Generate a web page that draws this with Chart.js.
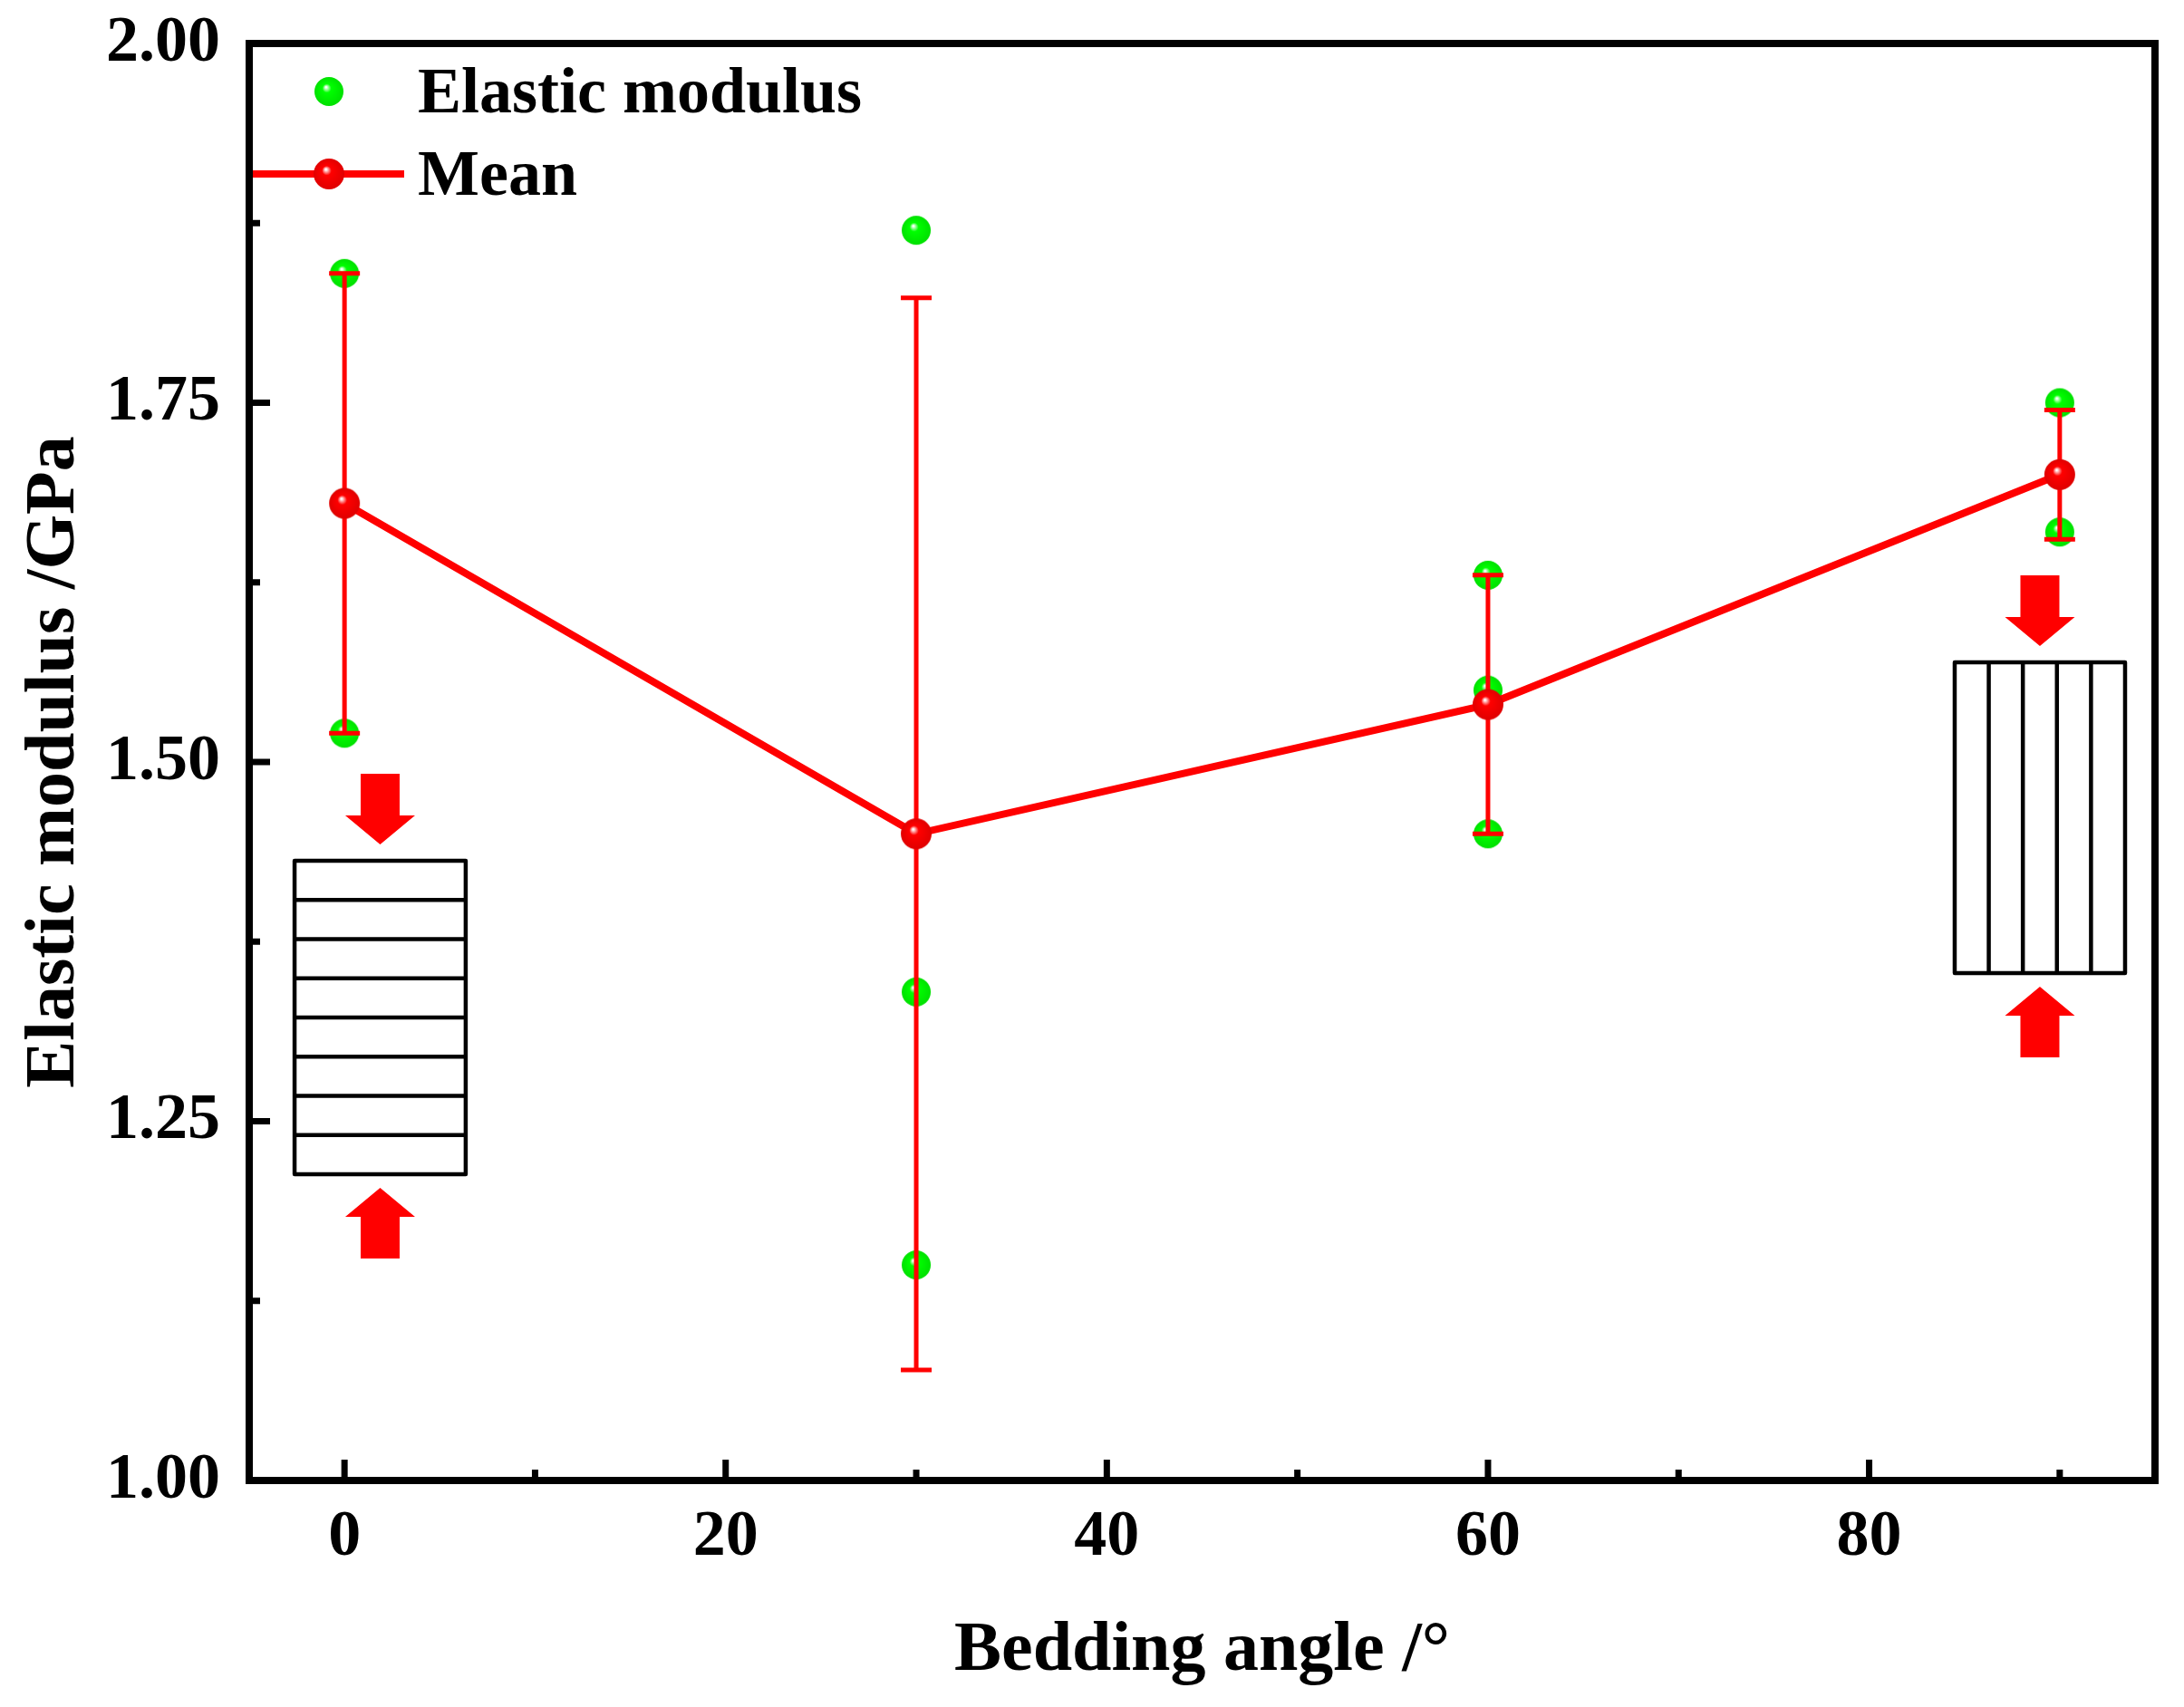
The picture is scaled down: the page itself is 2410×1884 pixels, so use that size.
<!DOCTYPE html>
<html>
<head>
<meta charset="utf-8">
<script src="https://cdn.jsdelivr.net/npm/chart.js@4"></script>
<style>
  html, body { margin: 0; padding: 0; background: #ffffff; }
  #wrap { width: 2410px; height: 1884px; }
</style>
</head>
<body>
<div id="wrap"><canvas id="c" width="2410" height="1884"></canvas></div>
<script>
// ---------------- data ----------------
const beddingAngles = [0, 30, 60, 90];
const sampleA = [1.84, 1.87, 1.63, 1.75];
const sampleB = [1.52, 1.34, 1.55, 1.66];
const sampleC = [1.68, 1.15, 1.45, 1.70];
const meanValues = [1.68, 1.45, 1.54, 1.70];
const meanError = [0.16, 0.373, 0.09, 0.045];
const xTickValues = [0, 20, 40, 60, 80];
const xMinorTickValues = [10, 30, 50, 70, 90];
const yTickValues = [1.00, 1.25, 1.50, 1.75, 2.00];
const yTickLabels = ['1.00', '1.25', '1.50', '1.75', '2.00'];
const yMinorTickValues = [1.125, 1.375, 1.625, 1.875];
const seriesNames = ['Elastic modulus', 'Mean'];
const axisTitles = { x: 'Bedding angle /°', y: 'Elastic modulus /GPa' };

// ---------------- styling ----------------
const FONT = 'Liberation Serif';
const GREEN = '#00ff00';
const RED = '#ff0000';

function sphere(r, base, edge) {
  const c = document.createElement('canvas');
  c.width = c.height = 2 * r + 2;
  const g = c.getContext('2d');
  const cx = r + 1, cy = r + 1;
  const grad = g.createRadialGradient(cx - r * 0.2, cy - r * 0.3, r * 0.04, cx, cy, r);
  grad.addColorStop(0, '#ffffff');
  grad.addColorStop(0.28, base);
  grad.addColorStop(1, edge);
  g.fillStyle = grad;
  g.beginPath();
  g.arc(cx, cy, r, 0, Math.PI * 2);
  g.fill();
  return c;
}
const greenBall = sphere(16, GREEN, '#00e000');
const redBall = sphere(17, RED, '#e00000');

const scatterData = [];
beddingAngles.forEach((a, i) => {
  scatterData.push({ x: a, y: sampleA[i] });
  scatterData.push({ x: a, y: sampleB[i] });
  scatterData.push({ x: a, y: sampleC[i] });
});
const meanData = beddingAngles.map((a, i) => ({ x: a, y: meanValues[i] }));

// error bars drawn through the chart's scales, right after the scatter points
const errorBarPlugin = {
  id: 'errorBars',
  afterDatasetDraw(chart, args) {
    if (args.index !== 0) return;
    const { ctx, scales: { x, y } } = chart;
    ctx.save();
    ctx.strokeStyle = RED;
    ctx.lineWidth = 5;
    const cap = 17;
    beddingAngles.forEach((a, i) => {
      const px = x.getPixelForValue(a);
      const top = y.getPixelForValue(meanValues[i] + meanError[i]);
      const bot = y.getPixelForValue(meanValues[i] - meanError[i]);
      ctx.beginPath();
      ctx.moveTo(px, top); ctx.lineTo(px, bot);
      ctx.moveTo(px - cap, top); ctx.lineTo(px + cap, top);
      ctx.moveTo(px - cap, bot); ctx.lineTo(px + cap, bot);
      ctx.stroke();
    });
    ctx.restore();
  }
};

// specimen sketches (annotations placed in data space)
const specimens = [
  { x0: -2.62, x1: 6.36, y0: 1.2131, y1: 1.4313, lines: 7, dir: 'h' },
  { x0: 84.49, x1: 93.43, y0: 1.3531, y1: 1.5694, lines: 4, dir: 'v' }
];
function arrow(ctx, cx, tipY, down) {
  const shaftW = 43, shaftH = 46, headW = 77, headH = 32;
  const s = down ? -1 : 1; // direction from tip to tail
  ctx.beginPath();
  ctx.moveTo(cx, tipY);
  ctx.lineTo(cx + headW / 2, tipY + s * headH);
  ctx.lineTo(cx + shaftW / 2, tipY + s * headH);
  ctx.lineTo(cx + shaftW / 2, tipY + s * (headH + shaftH));
  ctx.lineTo(cx - shaftW / 2, tipY + s * (headH + shaftH));
  ctx.lineTo(cx - shaftW / 2, tipY + s * headH);
  ctx.lineTo(cx - headW / 2, tipY + s * headH);
  ctx.closePath();
  ctx.fill();
}
const specimenPlugin = {
  id: 'specimens',
  afterDatasetsDraw(chart) {
    const { ctx, scales: { x, y } } = chart;
    ctx.save();
    specimens.forEach(sp => {
      const L = x.getPixelForValue(sp.x0), R = x.getPixelForValue(sp.x1);
      const T = y.getPixelForValue(sp.y1), B = y.getPixelForValue(sp.y0);
      ctx.strokeStyle = '#000';
      ctx.lineWidth = 4.5;
      ctx.lineJoin = 'round';
      ctx.beginPath();
      ctx.rect(L, T, R - L, B - T);
      for (let k = 1; k <= sp.lines; k++) {
        if (sp.dir === 'h') {
          const yy = T + (B - T) * k / (sp.lines + 1);
          ctx.moveTo(L, yy); ctx.lineTo(R, yy);
        } else {
          const xx = L + (R - L) * k / (sp.lines + 1);
          ctx.moveTo(xx, T); ctx.lineTo(xx, B);
        }
      }
      ctx.stroke();
      ctx.fillStyle = RED;
      const cx = (L + R) / 2;
      arrow(ctx, cx, T - 18, true);
      arrow(ctx, cx, B + 15, false);
    });
    ctx.restore();
  }
};

// frame, inward ticks and legend
const framePlugin = {
  id: 'frame',
  afterDraw(chart) {
    const { ctx, chartArea: a, scales: { x, y } } = chart;
    ctx.save();
    ctx.strokeStyle = '#000';
    ctx.lineCap = 'butt';
    ctx.lineWidth = 7;
    ctx.beginPath();
    xTickValues.forEach(v => { const p = x.getPixelForValue(v); ctx.moveTo(p, a.bottom); ctx.lineTo(p, a.bottom - 23); });
    xMinorTickValues.forEach(v => { const p = x.getPixelForValue(v); ctx.moveTo(p, a.bottom); ctx.lineTo(p, a.bottom - 12); });
    yTickValues.forEach(v => { const p = y.getPixelForValue(v); ctx.moveTo(a.left, p); ctx.lineTo(a.left + 23, p); });
    yMinorTickValues.forEach(v => { const p = y.getPixelForValue(v); ctx.moveTo(a.left, p); ctx.lineTo(a.left + 12, p); });
    ctx.stroke();
    ctx.lineWidth = 8;
    ctx.lineJoin = 'miter';
    ctx.strokeRect(a.left, a.top, a.right - a.left, a.bottom - a.top);

    // legend
    const mx = a.left + 88;
    const row1 = a.top + 53, row2 = a.top + 144;
    ctx.drawImage(greenBall, mx - greenBall.width / 2, row1 - greenBall.height / 2);
    ctx.strokeStyle = RED;
    ctx.lineWidth = 8;
    ctx.beginPath();
    ctx.moveTo(a.left + 4, row2); ctx.lineTo(a.left + 171, row2);
    ctx.stroke();
    ctx.drawImage(redBall, mx - redBall.width / 2, row2 - redBall.height / 2);
    ctx.fillStyle = '#000';
    ctx.font = 'bold 72px "' + FONT + '"';
    ctx.textBaseline = 'middle';
    ctx.textAlign = 'left';
    ctx.fillText(seriesNames[0], a.left + 186, row1 + 4);
    ctx.fillText(seriesNames[1], a.left + 186, row2 + 4);
    ctx.restore();
  }
};

new Chart(document.getElementById('c'), {
  type: 'scatter',
  data: {
    datasets: [
      {
        label: seriesNames[0],
        data: scatterData,
        pointStyle: greenBall,
        pointRadius: 16,
        pointHoverRadius: 16,
        order: 2
      },
      {
        label: seriesNames[1],
        type: 'line',
        data: meanData,
        showLine: true,
        borderColor: RED,
        borderWidth: 8,
        tension: 0,
        fill: false,
        pointStyle: redBall,
        pointRadius: 17,
        pointHoverRadius: 17,
        order: 1
      }
    ]
  },
  options: {
    responsive: false,
    animation: false,
    devicePixelRatio: 1,
    events: [],
    layout: { padding: { left: 0, right: 32, top: 48, bottom: 0 } },
    plugins: { legend: { display: false }, tooltip: { enabled: false } },
    scales: {
      x: {
        type: 'linear',
        min: -5, max: 95,
        afterBuildTicks: s => { s.ticks = xTickValues.map(v => ({ value: v })); },
        afterFit: s => { s.height = 250; s.paddingLeft = 0; s.paddingRight = 0; },
        grid: { display: false, drawTicks: false },
        border: { display: false },
        ticks: {
          padding: 20,
          color: '#000',
          font: { family: FONT, size: 72, weight: 'bold' },
          callback: v => String(v)
        },
        title: {
          display: true,
          text: axisTitles.x,
          color: '#000',
          font: { family: FONT, size: 78, weight: 'bold' },
          padding: { top: 0, bottom: 14 }
        }
      },
      y: {
        type: 'linear',
        min: 1.0, max: 2.0,
        afterBuildTicks: s => { s.ticks = yTickValues.map(v => ({ value: v })); },
        afterFit: s => { s.width = 275; s.paddingTop = 0; s.paddingBottom = 0; },
        grid: { display: false, drawTicks: false },
        border: { display: false },
        ticks: {
          padding: 32,
          color: '#000',
          font: { family: FONT, size: 72, weight: 'bold' },
          callback: (v, i) => yTickLabels[i]
        },
        title: {
          display: true,
          text: axisTitles.y,
          color: '#000',
          font: { family: FONT, size: 78, weight: 'bold' },
          padding: { top: 14, bottom: 0 }
        }
      }
    }
  },
  plugins: [errorBarPlugin, specimenPlugin, framePlugin]
});
</script>
</body>
</html>
